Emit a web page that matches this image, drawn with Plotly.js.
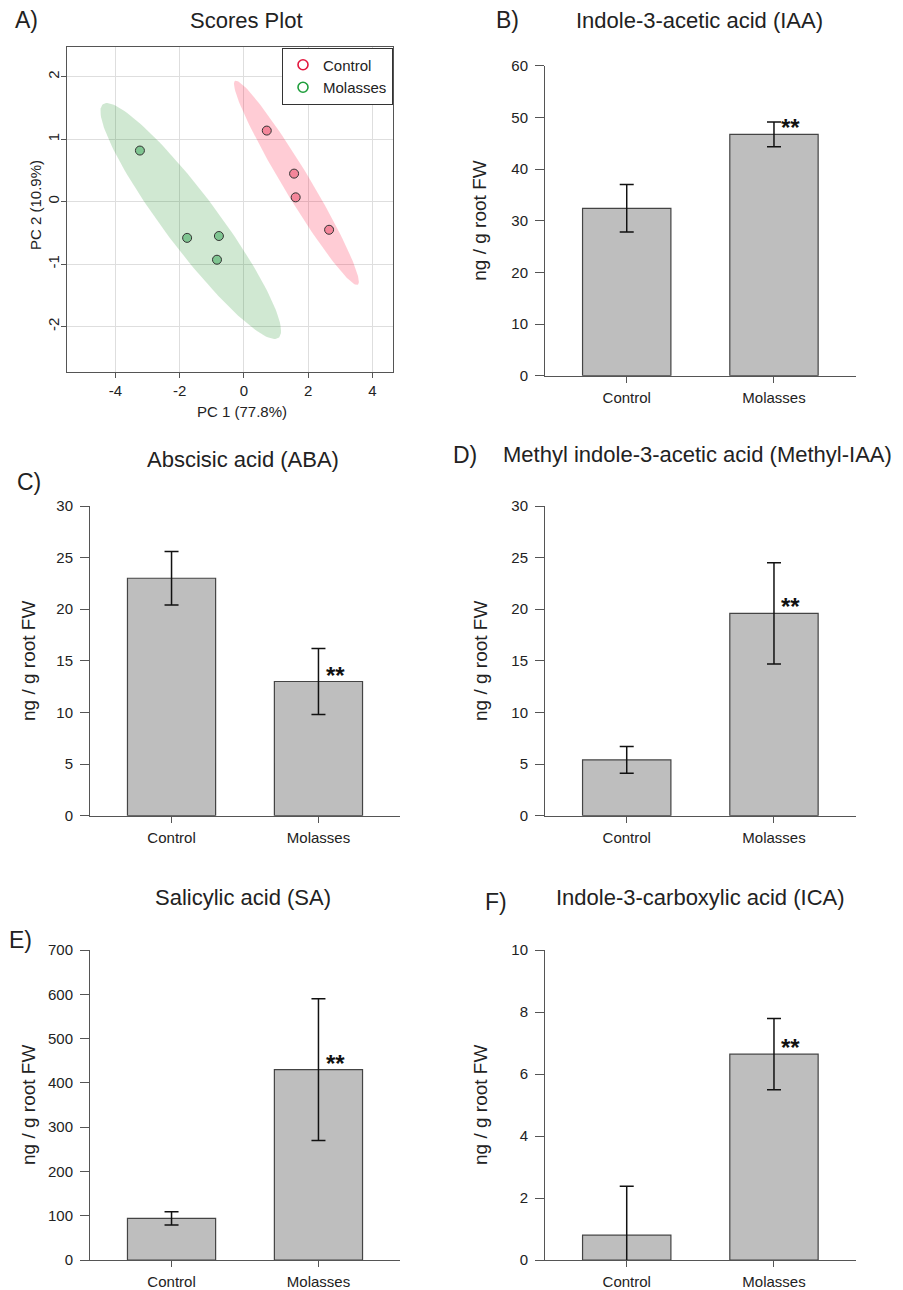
<!DOCTYPE html>
<html>
<head>
<meta charset="utf-8">
<script src="https://cdn.plot.ly/plotly-3.0.1.min.js"></script>
<style>
html,body{margin:0;padding:0;background:#fff;}
#chart{width:903px;height:1290px;}
</style>
</head>
<body>
<div id="chart"></div>
<script>
// ---------- DATA ----------
const groups = ['Control', 'Molasses'];
// PCA scores
const ctrlPC1 = [0.71, 1.56, 1.61, 2.65];
const ctrlPC2 = [1.14, 0.45, 0.07, -0.45];
const molPC1 = [-3.24, -1.77, -0.78, -0.84];
const molPC2 = [0.82, -0.58, -0.55, -0.93];
const pcXTicks = [-4, -2, 0, 2, 4];
const pcYTicks = [-2, -1, 0, 1, 2];
// Hormone concentrations (ng / g root FW), mean and error
const categories = ['Control', 'Molasses'];
const iaaMean = [32.4, 46.7];
const iaaErr = [4.6, 2.4];
const abaMean = [23.0, 13.0];
const abaErr = [2.6, 3.2];
const mIaaMean = [5.4, 19.6];
const mIaaErr = [1.3, 4.9];
const saMean = [94, 430];
const saErr = [15, 160];
const icaMean = [0.8, 6.64];
const icaErr = [1.58, 1.15];
const signif = ['', '**'];

// ---------- HELPERS ----------
const W = 903, H = 1290;
const FONT = 'Arial, "Liberation Sans", sans-serif';
const px = x => x / W;
const py = y => 1 - y / H;

function ellipse(xs, ys, n) {
  const m = xs.length;
  const mx = xs.reduce((a, b) => a + b, 0) / m;
  const my = ys.reduce((a, b) => a + b, 0) / m;
  let sxx = 0, syy = 0, sxy = 0;
  for (let i = 0; i < m; i++) {
    sxx += (xs[i] - mx) ** 2; syy += (ys[i] - my) ** 2; sxy += (xs[i] - mx) * (ys[i] - my);
  }
  sxx /= (m - 1); syy /= (m - 1); sxy /= (m - 1);
  const L11 = Math.sqrt(sxx), L21 = sxy / L11, L22 = Math.sqrt(syy - L21 * L21);
  const t = Math.sqrt(5.991464547); // 95% chi-square, 2 df
  const ex = [], ey = [];
  for (let k = 0; k <= n; k++) {
    const a = 2 * Math.PI * k / n;
    ex.push(mx + t * L11 * Math.cos(a));
    ey.push(my + t * (L21 * Math.cos(a) + L22 * Math.sin(a)));
  }
  return {x: ex, y: ey};
}

const ctrlEl = ellipse(ctrlPC1, ctrlPC2, 160);
const molEl = ellipse(molPC1, molPC2, 160);

const traces = [
  {type: 'scatter', mode: 'lines', x: ctrlEl.x, y: ctrlEl.y, fill: 'toself',
   fillcolor: 'rgba(255,0,45,0.2)', line: {width: 0}, hoverinfo: 'skip', showlegend: false, xaxis: 'x', yaxis: 'y'},
  {type: 'scatter', mode: 'lines', x: molEl.x, y: molEl.y, fill: 'toself',
   fillcolor: 'rgba(20,140,30,0.2)', line: {width: 0}, hoverinfo: 'skip', showlegend: false, xaxis: 'x', yaxis: 'y'},
  {type: 'scatter', mode: 'markers', x: ctrlPC1, y: ctrlPC2, name: 'Control', showlegend: false,
   marker: {size: 9, color: '#f4869a', line: {color: '#333', width: 1}}, xaxis: 'x', yaxis: 'y'},
  {type: 'scatter', mode: 'markers', x: molPC1, y: molPC2, name: 'Molasses', showlegend: false,
   marker: {size: 9, color: '#7fc591', line: {color: '#333', width: 1}}, xaxis: 'x', yaxis: 'y'},
  // legend entries
  {type: 'scatter', mode: 'markers', x: [null], y: [null], name: 'Control', showlegend: true,
   marker: {size: 10, symbol: 'circle-open', color: '#e3173e', line: {width: 1.6}}, xaxis: 'x', yaxis: 'y'},
  {type: 'scatter', mode: 'markers', x: [null], y: [null], name: 'Molasses', showlegend: true,
   marker: {size: 10, symbol: 'circle-open', color: '#1f9e3c', line: {width: 1.6}}, xaxis: 'x', yaxis: 'y'}
];

const panels = [
  {id: 2, mean: iaaMean, err: iaaErr, ymax: 60, dtick: 10, x0: 545, x1: 855.7, y0: 65.7, y1: 375.7,
   letter: 'B)', lx: 507, ly: 20, title: 'Indole-3-acetic acid (IAA)', tx: 699, ty: 20, yt: [480, 220.7]},
  {id: 3, mean: abaMean, err: abaErr, ymax: 30, dtick: 5, x0: 90, x1: 400, y0: 506, y1: 815.7,
   letter: 'C)', lx: 29, ly: 482, title: 'Abscisic acid (ABA)', tx: 243, ty: 460, yt: [28, 661]},
  {id: 4, mean: mIaaMean, err: mIaaErr, ymax: 30, dtick: 5, x0: 545, x1: 855.7, y0: 506, y1: 815.7,
   letter: 'D)', lx: 465, ly: 455, title: 'Methyl indole-3-acetic acid (Methyl-IAA)', tx: 697.5, ty: 455, yt: [480, 661]},
  {id: 5, mean: saMean, err: saErr, ymax: 700, dtick: 100, x0: 90, x1: 400, y0: 950, y1: 1260,
   letter: 'E)', lx: 20.5, ly: 940, title: 'Salicylic acid (SA)', tx: 243, ty: 898, yt: [28, 1105]},
  {id: 6, mean: icaMean, err: icaErr, ymax: 10, dtick: 2, x0: 545, x1: 855.7, y0: 950, y1: 1260,
   letter: 'F)', lx: 496, ly: 902, title: 'Indole-3-carboxylic acid (ICA)', tx: 700, ty: 898, yt: [480, 1105]}
];

function paperText(text, x, y, size, extra) {
  return Object.assign({text: text, x: px(x), y: py(y), xref: 'paper', yref: 'paper', showarrow: false,
    xanchor: 'center', yanchor: 'middle', font: {size: size}}, extra || {});
}

const layout = {
  width: W, height: H,
  margin: {l: 0, r: 0, t: 0, b: 0},
  paper_bgcolor: '#fff', plot_bgcolor: '#fff',
  font: {family: FONT, color: '#222', size: 15},
  showlegend: true,
  legend: {x: px(393), xanchor: 'right', y: py(47.5), yanchor: 'top', bordercolor: '#333', borderwidth: 1,
           bgcolor: '#fff', font: {size: 15, family: FONT, color: '#222'}, itemwidth: 30, tracegroupgap: 0},
  xaxis: {domain: [px(67), px(393)], anchor: 'y', range: [-5.51, 4.64], tickvals: pcXTicks,
          ticktext: pcXTicks.map(String), showgrid: true, gridcolor: '#dedede', zeroline: false,
          showline: true, mirror: true, linecolor: '#555', ticks: 'outside', ticklen: 5, tickcolor: '#555',
          tickfont: {size: 15}},
  yaxis: {domain: [py(372), py(47)], anchor: 'x', range: [-2.73, 2.48], tickvals: pcYTicks,
          ticktext: pcYTicks.map(String), tickangle: -90, showgrid: true, gridcolor: '#dedede', zeroline: false,
          showline: true, mirror: true, linecolor: '#555', ticks: 'outside', ticklen: 5, tickcolor: '#555',
          tickfont: {size: 15}, ticklabelstandoff: -4},
  annotations: [
    paperText('A)', 26.5, 20, 23),
    paperText('Scores Plot', 246, 20, 22),
    paperText('PC 1 (77.8%)', 242, 411, 15),
    paperText('PC 2 (10.9%)', 35, 205, 15, {textangle: -90})
  ]
};

panels.forEach(p => {
  const xa = 'x' + p.id, ya = 'y' + p.id;
  traces.push({
    type: 'bar', x: categories, y: p.mean, width: 0.6, xaxis: xa, yaxis: ya, showlegend: false,
    marker: {color: '#bebebe', line: {color: '#444', width: 1.2}},
    error_y: {type: 'data', array: p.err, visible: true, color: '#111', thickness: 1.5, width: 7}
  });
  const ticks = [];
  for (let v = 0; v <= p.ymax + 1e-9; v += p.dtick) ticks.push(v);
  layout['xaxis' + p.id] = {
    domain: [px(p.x0), px(p.x1)], anchor: ya, type: 'category', range: [-0.555, 1.555],
    showline: true, linecolor: '#555', linewidth: 1, ticks: 'outside', ticklen: 6, tickcolor: '#555',
    showgrid: false, zeroline: false, tickfont: {size: 15}, ticklabelstandoff: 2
  };
  layout['yaxis' + p.id] = {
    domain: [py(p.y1), py(p.y0)], anchor: xa, range: [0, p.ymax], tickvals: ticks,
    showline: true, linecolor: '#555', linewidth: 1, ticks: 'outside', ticklen: 9, tickcolor: '#555',
    showgrid: false, zeroline: false, tickfont: {size: 15}, ticklabelstandoff: 4
  };
  layout.annotations.push(
    paperText(p.letter, p.lx, p.ly, 23),
    paperText(p.title, p.tx, p.ty, 22),
    paperText('ng / g root FW', p.yt[0], p.yt[1], 19, {textangle: -90})
  );
  categories.forEach((c, i) => {
    if (signif[i]) {
      layout.annotations.push({text: '<b>' + signif[i] + '</b>', x: c, y: p.mean[i], xref: xa, yref: ya,
        showarrow: false, xanchor: 'center', yanchor: 'bottom', xshift: 17, yshift: -9,
        font: {size: 24, color: '#111'}});
    }
  });
});

Plotly.newPlot('chart', traces, layout, {displayModeBar: false, staticPlot: true});
</script>
</body>
</html>
